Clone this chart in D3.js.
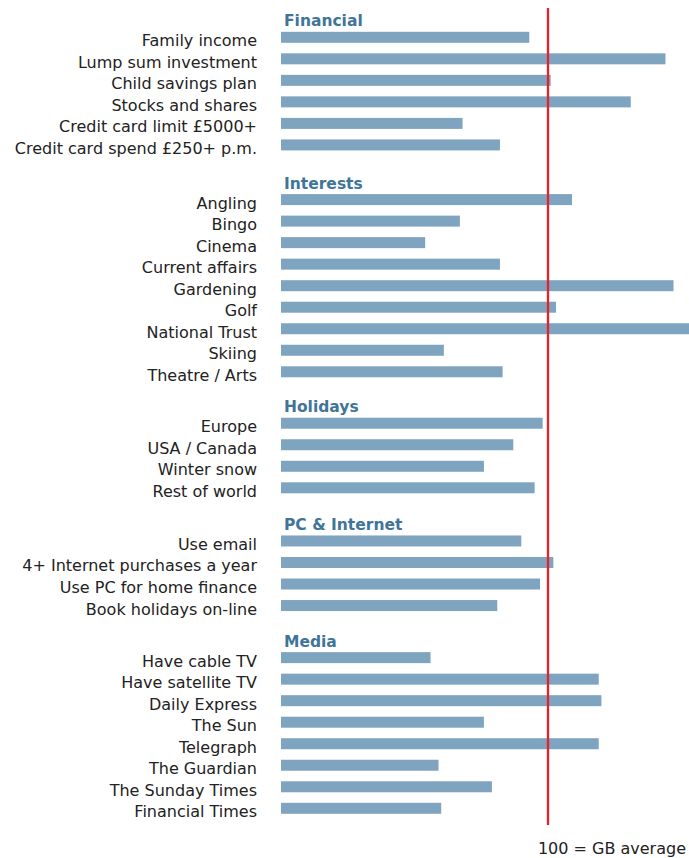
<!DOCTYPE html>
<html>
<head>
<meta charset="utf-8">
<script src="https://cdn.jsdelivr.net/npm/d3@7"></script>
<style>
  body { margin: 0; background: #fff; }
  svg { display: block; }
</style>
</head>
<body>
<svg width="689" height="858"></svg>
<script>
// index values, 100 = GB average
const groups = ['Financial', 'Interests', 'Holidays', 'PC & Internet', 'Media']

const financialLabels = ['Family income', 'Lump sum investment', 'Child savings plan',
  'Stocks and shares', 'Credit card limit £5000+', 'Credit card spend £250+ p.m.']
const financialValues = [93, 144, 101, 131, 68, 82]

const interestsLabels = ['Angling', 'Bingo', 'Cinema', 'Current affairs', 'Gardening',
  'Golf', 'National Trust', 'Skiing', 'Theatre / Arts']
const interestsValues = [109, 67, 54, 82, 147, 103, 155, 61, 83]

const holidaysLabels = ['Europe', 'USA / Canada', 'Winter snow', 'Rest of world']
const holidaysValues = [98, 87, 76, 95]

const pcLabels = ['Use email', '4+ Internet purchases a year', 'Use PC for home finance',
  'Book holidays on-line']
const pcValues = [90, 102, 97, 81]

const mediaLabels = ['Have cable TV', 'Have satellite TV', 'Daily Express', 'The Sun',
  'Telegraph', 'The Guardian', 'The Sunday Times', 'Financial Times']
const mediaValues = [56, 119, 120, 76, 119, 59, 79, 60]

const average = 100
const footnote = '100 = GB average'

let svg = d3.select('svg')
let width = +svg.attr('width')

let labelSets = [financialLabels, interestsLabels, holidaysLabels, pcLabels, mediaLabels]
let valueSets = [financialValues, interestsValues, holidaysValues, pcValues, mediaValues]

// flatten into rows; each new group pushes the row index by a gap (in rows)
let gaps = [0, 2.54, 2.39, 2.47, 2.42]
let rows = []
let heads = []
let idx = 0
groups.forEach(function(g, gi) {
  if (gi > 0) idx += gaps[gi] - 1
  heads.push({ name: g, pos: idx })
  labelSets[gi].forEach(function(l, i) {
    rows.push({ label: l, value: valueSets[gi][i], pos: idx })
    idx += 1
  })
})
let last = idx - 1

let x = d3.scaleLinear().domain([0, 100]).range([281, 548])
let y = d3.scaleLinear().domain([0, last]).range([37.3, 808.3])
let barH = 11

svg.append('g')
    .attr('class', 'bars')
  .selectAll('rect')
  .data(rows)
  .enter().append('rect')
    .attr('x', x(0))
    .attr('y', function(d) { return y(d.pos) - barH / 2 })
    .attr('width', function(d) { return Math.max(0, Math.min(x(d.value), width) - x(0)) })
    .attr('height', barH)
    .attr('fill', '#7fa4bf')

svg.append('g')
    .attr('class', 'labels')
  .selectAll('text')
  .data(rows)
  .enter().append('text')
    .attr('x', 257)
    .attr('y', function(d) { return y(d.pos) + 9 })
    .attr('text-anchor', 'end')
    .attr('font-family', 'DejaVu Sans')
    .attr('font-size', 16)
    .attr('fill', '#222')
    .text(function(d) { return d.label })

svg.append('g')
    .attr('class', 'heads')
  .selectAll('text')
  .data(heads)
  .enter().append('text')
    .attr('x', 284)
    .attr('y', function(d) { return y(d.pos) - 11 })
    .attr('font-family', 'DejaVu Sans')
    .attr('font-weight', 700)
    .attr('font-size', 15.5)
    .attr('fill', '#3f7598')
    .text(function(d) { return d.name })

svg.append('line')
    .attr('x1', x(average))
    .attr('x2', x(average))
    .attr('y1', 8)
    .attr('y2', 825)
    .attr('stroke', '#e8202a')
    .attr('stroke-width', 2.3)

svg.append('text')
    .attr('x', 686)
    .attr('y', 854)
    .attr('text-anchor', 'end')
    .attr('font-family', 'DejaVu Sans')
    .attr('font-size', 16)
    .attr('fill', '#222')
    .text(footnote)
</script>
</body>
</html>
